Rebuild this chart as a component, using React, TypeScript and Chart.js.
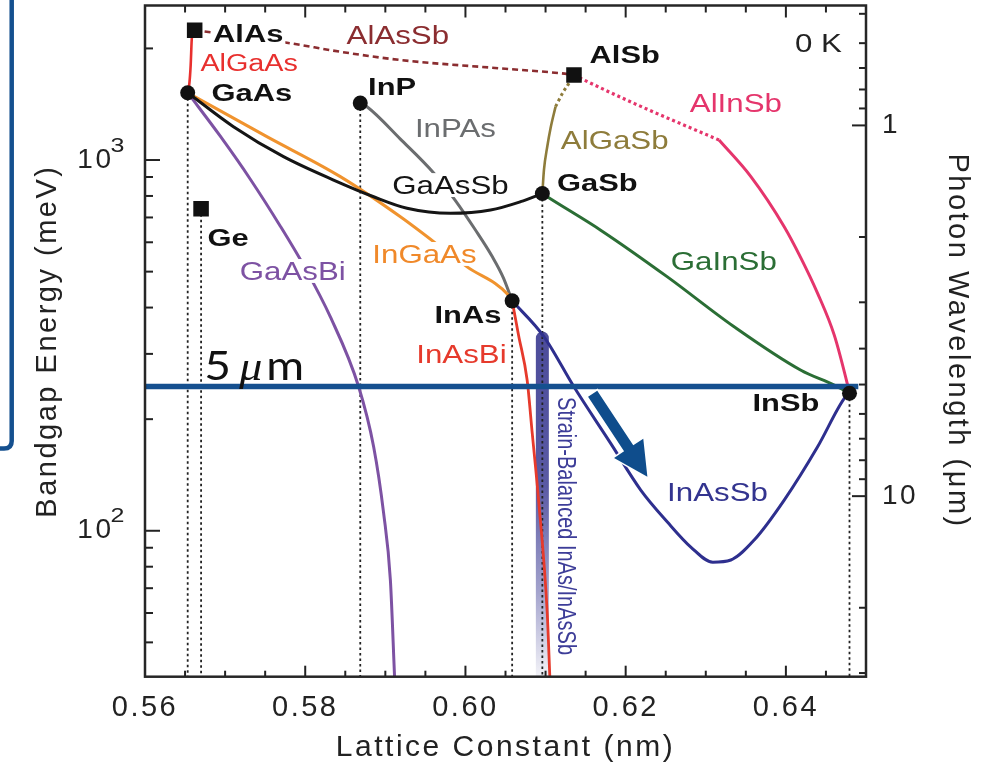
import React, { useEffect, useRef } from 'react';
import { Chart, registerables } from 'chart.js';

Chart.register(...registerables);

// ---------------- axes ----------------
const X_MIN = 0.56;
const X_MAX = 0.65;
const E_MIN = 40.4; // meV
const E_MAX = 2611; // meV
const HC = 1239.84; // meV * um

const X_MAJOR = [0.56, 0.58, 0.6, 0.62, 0.64];
const X_MINOR = [0.565, 0.57, 0.575, 0.585, 0.59, 0.595, 0.605, 0.61, 0.615, 0.625, 0.63, 0.635, 0.645];
const E_MAJOR = [100, 1000];
const E_EXP = ['2', '3'];
const E_MINOR = [50, 60, 70, 80, 90, 200, 300, 400, 500, 600, 700, 800, 900, 2000];
const L_MAJOR = [1, 10];
const L_MINOR = [0.5, 0.6, 0.7, 0.8, 0.9, 2, 3, 4, 5, 6, 7, 8, 9, 20, 30];

// ---------------- binaries (lattice nm, gap meV) ----------------
const DIRECT_NAMES = ['GaAs', 'InP', 'GaSb', 'InAs', 'InSb'];
const DIRECT_A = [0.56533, 0.58687, 0.6096, 0.60583, 0.64794];
const DIRECT_E = [1519, 1424, 812, 417, 235];
const INDIRECT_NAMES = ['AlAs', 'AlSb', 'Ge'];
const INDIRECT_A = [0.5662, 0.61355, 0.567];
const INDIRECT_E = [2240, 1696, 739];
// compounds with a dotted drop line to the axis
const DROP_A = [0.56533, 0.567, 0.58687, 0.60583, 0.6096, 0.64794];
const DROP_E = [1519, 739, 1424, 417, 812, 235];

// ---------------- alloys [lattice nm, gap meV] ----------------
const ALGAAS = [[0.56533, 1519], [0.56554, 1610], [0.5657, 1800], [0.56583, 2107], [0.5659, 2200]];
const ALASSB = [[0.5662, 2240], [0.57771, 2072], [0.58438, 1959], [0.59188, 1861], [0.60438, 1767], [0.61188, 1714], [0.61355, 1696]];
const GAASSB = [[0.56533, 1519], [0.57104, 1230], [0.57729, 1021], [0.58354, 883], [0.58854, 796], [0.59271, 741], [0.59813, 718], [0.60313, 733], [0.60688, 772], [0.6096, 812]];
const INGAAS = [[0.56533, 1519], [0.57521, 1156], [0.58438, 902], [0.59188, 703], [0.60021, 515], [0.60538, 432], [0.60583, 417]];
const INPAS = [[0.58687, 1424], [0.58771, 1392], [0.59188, 1139], [0.59604, 922.5], [0.59875, 777.6], [0.60125, 647.5], [0.60338, 547.4], [0.60475, 480.5], [0.60583, 417]];
const GAASBI = [[0.56533, 1519], [0.569375, 1161], [0.573125, 889], [0.576875, 664], [0.58, 511], [0.583125, 378], [0.58666, 245], [0.58854, 168.5], [0.58979, 111.4], [0.59063, 73.6], [0.59116, 40]];
const GAINSB = [[0.6096, 812], [0.61021, 796], [0.61688, 647], [0.62521, 484], [0.63354, 355], [0.64188, 271], [0.64604, 247], [0.64794, 235]];
const ALGASB_DIRECT = [[0.6096, 812], [0.6098, 940], [0.61021, 1086], [0.61063, 1220], [0.61125, 1393]];
const ALGASB_INDIRECT = [[0.61125, 1393], [0.61213, 1516], [0.61291, 1610], [0.61355, 1696]];
const ALINSB_INDIRECT = [[0.61355, 1696], [0.61438, 1661], [0.62104, 1422], [0.63166, 1132]];
const ALINSB_DIRECT = [[0.63166, 1132], [0.63563, 902], [0.63979, 661], [0.64188, 544], [0.64396, 437], [0.64604, 337], [0.64771, 247], [0.64794, 235]];
const INASSB = [[0.60583, 417], [0.60979, 334], [0.61354, 244.6], [0.61813, 172.1], [0.62188, 128.8], [0.62521, 105.6], [0.62813, 90.4], [0.63088, 82.3], [0.63313, 83.4], [0.63604, 94.4], [0.63979, 121], [0.64396, 168.5], [0.64729, 227.6], [0.64794, 235]];
const INASBI = [[0.60583, 417], [0.60663, 337], [0.6077, 255], [0.60834, 183], [0.60913, 121], [0.61021, 60], [0.61054, 40]];

// strain-balanced InAs/InAsSb band (lattice of GaSb)
const SB_BAR = [[0.6096, 40], [0.6096, 331]];
// 5 um cut-off line
const FIVE_UM = [[0.56, 245], [0.64904, 245]];
// arrow (data coords)
const ARROW_FROM = [0.61588, 234.3];
const ARROW_TO = [0.62271, 139.9];

const LABELS = [
  { text: 'AlAs', x: 0.57288, y: 2201, color: '#111', bold: true, bg: true },
  { text: 'AlGaAs', x: 0.573, y: 1832, color: '#e8302e', size: 23 },
  { text: 'GaAs', x: 0.57334, y: 1521, color: '#111', bold: true },
  { text: 'AlAsSb', x: 0.59156, y: 2174, color: '#8b2d30' },
  { text: 'InP', x: 0.59084, y: 1583, color: '#111', bold: true },
  { text: 'InPAs', x: 0.59875, y: 1218, color: '#6b6d6f' },
  { text: 'GaAsSb', x: 0.59813, y: 856, color: '#151515', bg: true },
  { text: 'AlSb', x: 0.61988, y: 1932, color: '#111', bold: true },
  { text: '0 K', x: 0.64406, y: 2065, color: '#222' },
  { text: 'AlInSb', x: 0.63375, y: 1429, color: '#e5356c' },
  { text: 'AlGaSb', x: 0.61863, y: 1132, color: '#8e7c3b' },
  { text: 'GaSb', x: 0.61646, y: 870, color: '#111', bold: true },
  { text: 'GaInSb', x: 0.63225, y: 534, color: '#2b6e35' },
  { text: 'Ge', x: 0.57038, y: 620, color: '#111', bold: true },
  { text: 'GaAsBi', x: 0.57844, y: 502, color: '#7d52a3', bg: true },
  { text: 'InGaAs', x: 0.59488, y: 558, color: '#f0892a', bg: true },
  { text: 'InAs', x: 0.60031, y: 384, color: '#111', bold: true },
  { text: 'InAsBi', x: 0.5995, y: 300.6, color: '#e63a2c' },
  { text: 'InSb', x: 0.64, y: 221.8, color: '#111', bold: true },
  { text: 'InAsSb', x: 0.63146, y: 127.4, color: '#33348f' },
];
const STRAIN_LABEL = { text: 'Strain-Balanced InAs/InAsSb', x: 0.6115, y: 229.4, color: '#3d3d98' };
const FIVE_LABEL = { x: 0.5674, y: 255 };

const FONT = '"Liberation Sans", Arial, Helvetica, sans-serif';
const SX = 1.25;
const BLUE = '#15508f';

const pts = (arr) => arr.map(([x, y]) => ({ x, y }));

function curve(label, data, color, width, extra = {}) {
  return {
    label,
    data: pts(data),
    borderColor: color,
    backgroundColor: color,
    borderWidth: width,
    pointRadius: 0,
    fill: false,
    cubicInterpolationMode: 'monotone',
    order: 5,
    ...extra,
  };
}

function drop(a, e) {
  return {
    label: 'drop',
    data: pts([[a, e], [a, 38]]),
    borderColor: '#222',
    borderWidth: 1.8,
    borderDash: [2.5, 3],
    pointRadius: 0,
    fill: false,
    order: 8,
  };
}

const noPad = (s) => {
  s.paddingTop = 0;
  s.paddingBottom = 0;
  s.paddingLeft = 0;
  s.paddingRight = 0;
};

const decor = {
  id: 'decor',
  beforeDraw(chart) {
    chart.ctx.letterSpacing = '2.5px';
  },
  beforeDatasetsDraw(chart) {
    chart.ctx.letterSpacing = '0px';
  },
  afterDatasetsDraw(chart) {
    const { ctx, chartArea: a, scales } = chart;
    const xs = scales.x;
    const ys = scales.y;
    const yr = scales.yR;
    ctx.save();
    ctx.letterSpacing = '0px';

    // arrow
    const p0x = xs.getPixelForValue(ARROW_FROM[0]);
    const p0y = ys.getPixelForValue(ARROW_FROM[1]);
    const p1x = xs.getPixelForValue(ARROW_TO[0]);
    const p1y = ys.getPixelForValue(ARROW_TO[1]);
    const dx = p1x - p0x, dy = p1y - p0y;
    const len = Math.hypot(dx, dy);
    const ux = dx / len, uy = dy / len, nx = -uy, ny = ux;
    const hl = 34, hw = 17.5, sw = 5.5;
    const bx = p1x - ux * hl, by = p1y - uy * hl;
    ctx.beginPath();
    ctx.moveTo(p0x + nx * sw, p0y + ny * sw);
    ctx.lineTo(bx + nx * sw, by + ny * sw);
    ctx.lineTo(bx + nx * hw, by + ny * hw);
    ctx.lineTo(p1x, p1y);
    ctx.lineTo(bx - nx * hw, by - ny * hw);
    ctx.lineTo(bx - nx * sw, by - ny * sw);
    ctx.lineTo(p0x - nx * sw, p0y - ny * sw);
    ctx.closePath();
    ctx.strokeStyle = '#fff';
    ctx.lineWidth = 3;
    ctx.lineJoin = 'miter';
    ctx.stroke();
    ctx.fillStyle = '#0f4d8c';
    ctx.fill();

    // labels
    for (const L of LABELS) {
      const size = L.size || (L.bold ? 24.7 : 25);
      ctx.font = `${L.bold ? 'bold ' : ''}${size}px ${FONT}`;
      const w = ctx.measureText(L.text).width * SX;
      const cx = xs.getPixelForValue(L.x);
      const cy = ys.getPixelForValue(L.y);
      const cap = 0.716 * size;
      if (L.bg) {
        ctx.fillStyle = '#fff';
        ctx.fillRect(cx - w / 2 - 2, cy - cap / 2 - 3, w + 4, cap + 6);
      }
      ctx.save();
      ctx.translate(cx - w / 2, cy + cap / 2);
      ctx.scale(SX, 1);
      ctx.fillStyle = L.color;
      ctx.textAlign = 'left';
      ctx.textBaseline = 'alphabetic';
      ctx.fillText(L.text, 0, 0);
      ctx.restore();
    }

    // rotated strain-balanced label
    ctx.save();
    ctx.translate(xs.getPixelForValue(STRAIN_LABEL.x), ys.getPixelForValue(STRAIN_LABEL.y));
    ctx.rotate(Math.PI / 2);
    ctx.scale(1, SX);
    ctx.font = `20px ${FONT}`;
    ctx.fillStyle = STRAIN_LABEL.color;
    ctx.textAlign = 'left';
    ctx.textBaseline = 'alphabetic';
    ctx.fillText(STRAIN_LABEL.text, 0, 0);
    ctx.restore();

    // 5 um label
    const fx = xs.getPixelForValue(FIVE_LABEL.x);
    const fy = ys.getPixelForValue(FIVE_LABEL.y);
    const part = (t, x, font) => {
      ctx.save();
      ctx.translate(x, fy);
      ctx.scale(1.15, 1);
      ctx.font = font;
      ctx.fillStyle = '#111';
      ctx.textAlign = 'left';
      ctx.textBaseline = 'alphabetic';
      ctx.fillText(t, 0, 0);
      ctx.restore();
    };
    part('5', fx, '40px Lato');
    part('\u03bc', fx + 35, 'italic 40px "Liberation Serif"');
    part('m', fx + 62, '40px Lato');

    // frame and inward ticks
    ctx.strokeStyle = '#222';
    ctx.lineWidth = 2;
    const seg = (x1, y1, x2, y2) => {
      ctx.beginPath();
      ctx.moveTo(x1, y1);
      ctx.lineTo(x2, y2);
      ctx.stroke();
    };
    X_MAJOR.forEach((v) => {
      const p = xs.getPixelForValue(v);
      seg(p, a.bottom, p, a.bottom - 11);
      seg(p, a.top, p, a.top + 12);
    });
    X_MINOR.forEach((v) => {
      const p = xs.getPixelForValue(v);
      seg(p, a.bottom, p, a.bottom - 6);
      seg(p, a.top, p, a.top + 7);
    });
    E_MAJOR.forEach((v) => {
      const p = ys.getPixelForValue(v);
      seg(a.left, p, a.left + 15, p);
    });
    E_MINOR.forEach((v) => {
      const p = ys.getPixelForValue(v);
      seg(a.left, p, a.left + 8, p);
    });
    L_MAJOR.forEach((v) => {
      const p = yr.getPixelForValue(v);
      seg(a.right, p, a.right - 14, p);
    });
    L_MINOR.forEach((v) => {
      const p = yr.getPixelForValue(v);
      seg(a.right, p, a.right - 7, p);
    });
    ctx.lineWidth = 2.5;
    ctx.strokeStyle = '#262626';
    ctx.strokeRect(a.left, a.top, a.right - a.left, a.bottom - a.top);

    // exponents of left tick labels
    ctx.font = `20px ${FONT}`;
    ctx.fillStyle = '#222';
    E_MAJOR.forEach((v, i) => {
      const p = ys.getPixelForValue(v);
      ctx.save();
      ctx.translate(a.left - 34.5, p - 8.3);
      ctx.scale(SX, 1);
      ctx.textAlign = 'left';
      ctx.textBaseline = 'alphabetic';
      ctx.fillText(E_EXP[i], 0, 0);
      ctx.restore();
    });

    // blue bracket at the left edge
    ctx.strokeStyle = BLUE;
    ctx.lineWidth = 4.5;
    ctx.beginPath();
    ctx.moveTo(11.7, -5);
    ctx.lineTo(11.7, 441);
    ctx.quadraticCurveTo(11.7, 448.5, 4, 448.5);
    ctx.lineTo(-5, 448.5);
    ctx.stroke();

    ctx.restore();
  },
};

export default function App() {
  const ref = useRef(null);
  useEffect(() => {
    const canvas = ref.current;
    if (!canvas) return;

    const datasets = [
      {
        label: 'direct',
        data: DIRECT_A.map((a, i) => ({ x: a, y: DIRECT_E[i] })),
        showLine: false,
        pointStyle: 'circle',
        pointRadius: 7.5,
        pointBackgroundColor: '#111',
        pointBorderColor: '#111',
        pointBorderWidth: 0,
        order: 1,
      },
      {
        label: 'indirect',
        data: INDIRECT_A.map((a, i) => ({ x: a, y: INDIRECT_E[i] })),
        showLine: false,
        pointStyle: 'rect',
        pointRadius: 11,
        pointBackgroundColor: '#111',
        pointBorderColor: '#111',
        pointBorderWidth: 0,
        order: 1,
      },
      curve('5 um', FIVE_UM, BLUE, 5.5, { order: 2, cubicInterpolationMode: 'default' }),
      curve('AlGaAs', ALGAAS, '#e8302e', 2.6),
      curve('AlAsSb', ALASSB, '#8b2d30', 2.6, { borderDash: [6, 4] }),
      curve('GaAsSb', GAASSB, '#151515', 3),
      curve('InGaAs', INGAAS, '#f0932e', 3),
      curve('InPAs', INPAS, '#6b6d6f', 3),
      curve('GaAsBi', GAASBI, '#7d52a3', 3),
      curve('GaInSb', GAINSB, '#2b6e35', 3),
      curve('AlGaSb', ALGASB_DIRECT, '#8e7c3b', 2.6),
      curve('AlGaSb ind', ALGASB_INDIRECT, '#8e7c3b', 3, { borderDash: [3, 3] }),
      curve('AlInSb ind', ALINSB_INDIRECT, '#e5356c', 3.2, { borderDash: [3, 3] }),
      curve('AlInSb', ALINSB_DIRECT, '#e5356c', 3),
      curve('InAsSb', INASSB, '#2e2f8e', 3),
      curve('InAsBi', INASBI, '#e63a2c', 2.8),
      ...DROP_A.map((a, i) => drop(a, DROP_E[i])),
      {
        label: 'strain-balanced',
        data: pts(SB_BAR),
        borderWidth: 13,
        borderCapStyle: 'round',
        pointRadius: 0,
        fill: false,
        order: 10,
        borderColor: (c) => {
          const ch = c.chart;
          const area = ch.chartArea;
          if (!area) return '#52529b';
          const top = ch.scales.y.getPixelForValue(SB_BAR[1][1]) - 7;
          const g = ch.ctx.createLinearGradient(0, top, 0, area.bottom);
          g.addColorStop(0, '#4c4c9a');
          g.addColorStop(0.45, '#5a5aa4');
          g.addColorStop(0.75, '#a2a2cc');
          g.addColorStop(1, '#f3f3f8');
          return g;
        },
      },
    ];

    const tickFont = { family: FONT, size: 28, lineHeight: 1 };
    const chart = new Chart(canvas, {
      type: 'line',
      data: { datasets },
      options: {
        responsive: false,
        animation: false,
        events: [],
        layout: { padding: { top: 5.5, left: 0, right: 0, bottom: 0 }, autoPadding: false },
        plugins: { legend: { display: false }, tooltip: { enabled: false }, title: { display: false } },
        scales: {
          x: {
            type: 'linear',
            min: X_MIN,
            max: X_MAX,
            bounds: 'data',
            grid: { display: false, drawTicks: false },
            border: { display: false },
            ticks: {
              font: { family: FONT, size: 29, lineHeight: 1 },
              color: '#222',
              padding: 17,
              autoSkip: false,
              maxRotation: 0,
              minRotation: 0,
              callback: (v) => Number(v).toFixed(2),
            },
            afterBuildTicks: (s) => {
              s.ticks = X_MAJOR.map((v) => ({ value: v }));
            },
            afterFit: (s) => {
              s.height = 772 - 676.7;
              noPad(s);
            },
            title: {
              display: true,
              text: 'Lattice Constant (nm)',
              color: '#222',
              font: { family: FONT, size: 30, lineHeight: 1 },
              padding: { top: 0, bottom: 9 },
            },
          },
          y: {
            type: 'logarithmic',
            position: 'left',
            min: E_MIN,
            max: E_MAX,
            bounds: 'data',
            grid: { display: false, drawTicks: false },
            border: { display: false },
            ticks: {
              font: tickFont,
              color: '#222',
              padding: 31.5,
              autoSkip: false,
              callback: () => '10',
            },
            afterBuildTicks: (s) => {
              s.ticks = E_MAJOR.map((v) => ({ value: v }));
            },
            afterFit: (s) => {
              s.width = 145;
              noPad(s);
            },
            title: {
              display: true,
              text: 'Bandgap Energy (meV)',
              color: '#222',
              font: { family: FONT, size: 29, lineHeight: 1 },
              padding: { top: 33, bottom: 0 },
            },
          },
          yR: {
            type: 'logarithmic',
            position: 'right',
            reverse: true,
            min: HC / E_MAX,
            max: HC / E_MIN,
            bounds: 'data',
            grid: { display: false, drawTicks: false },
            border: { display: false },
            ticks: {
              font: tickFont,
              color: '#222',
              padding: 16,
              autoSkip: false,
              callback: (v) => String(v),
            },
            afterBuildTicks: (s) => {
              s.ticks = L_MAJOR.map((v) => ({ value: v }));
            },
            afterFit: (s) => {
              s.width = 133;
              noPad(s);
            },
            title: {
              display: true,
              text: 'Photon Wavelength (\u03bcm)',
              color: '#222',
              font: { family: FONT, size: 29, lineHeight: 1 },
              padding: { top: 27.5, bottom: 0 },
            },
          },
        },
      },
      plugins: [decor],
    });
    return () => chart.destroy();
  }, []);

  return (
    <div style={{ position: 'absolute', left: 0, top: 0, width: 999, height: 772, background: '#fff' }}>
      <canvas ref={ref} width={999} height={772} style={{ display: 'block', width: 999, height: 772 }} />
    </div>
  );
}
